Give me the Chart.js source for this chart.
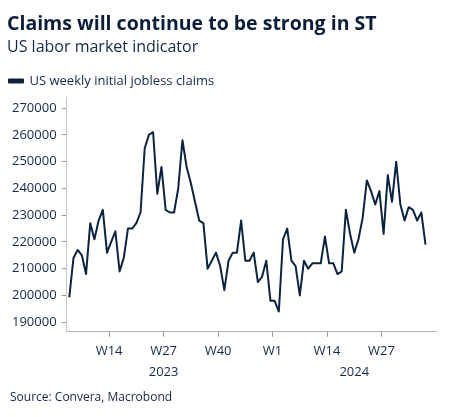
<!DOCTYPE html>
<html>
<head>
<meta charset="utf-8">
<script src="https://cdn.jsdelivr.net/npm/chart.js@4.4.1/dist/chart.umd.min.js"></script>
<style>
  html, body { margin: 0; padding: 0; background: #fff; }
</style>
</head>
<body>
<canvas id="claimsChart" width="453" height="417"></canvas>
<script>
// weekly observations, 2023-W04 .. 2024-W37
const weeks = [
  '2023-W04','2023-W05','2023-W06','2023-W07','2023-W08','2023-W09','2023-W10','2023-W11','2023-W12','2023-W13',
  '2023-W14','2023-W15','2023-W16','2023-W17','2023-W18','2023-W19','2023-W20','2023-W21','2023-W22','2023-W23',
  '2023-W24','2023-W25','2023-W26','2023-W27','2023-W28','2023-W29','2023-W30','2023-W31','2023-W32','2023-W33',
  '2023-W34','2023-W35','2023-W36','2023-W37','2023-W38','2023-W39','2023-W40','2023-W41','2023-W42','2023-W43',
  '2023-W44','2023-W45','2023-W46','2023-W47','2023-W48','2023-W49','2023-W50','2023-W51','2023-W52',
  '2024-W01','2024-W02','2024-W03','2024-W04','2024-W05','2024-W06','2024-W07','2024-W08','2024-W09','2024-W10',
  '2024-W11','2024-W12','2024-W13','2024-W14','2024-W15','2024-W16','2024-W17','2024-W18','2024-W19','2024-W20',
  '2024-W21','2024-W22','2024-W23','2024-W24','2024-W25','2024-W26','2024-W27','2024-W28','2024-W29','2024-W30',
  '2024-W31','2024-W32','2024-W33','2024-W34','2024-W35','2024-W36','2024-W37'
];

const claims = [
  199300, 214000, 217000, 215000, 208000, 227000, 221000, 228000, 232000, 216000,
  220000, 224000, 209000, 214000, 225000, 225000, 227000, 231000, 255000, 260000,
  261000, 238000, 248000, 232000, 231000, 231000, 240000, 258000, 248000, 242000,
  235000, 228000, 227000, 210000, 213000, 216000, 211000, 202000, 213000, 216000,
  216000, 228000, 213000, 213000, 216000, 205000, 207000, 213000, 198000, 198000,
  194000, 221000, 225000, 213000, 211000, 200000, 213000, 210000, 212000, 212000,
  212000, 222000, 212000, 212000, 208000, 209000, 232000, 223000, 216000, 221000,
  229000, 243000, 239000, 234000, 239000, 223000, 245000, 235000, 250000, 234000,
  228000, 233000, 232000, 228000, 231000, 219000
];

// week ticks sit between observations (start of the labelled week)
const weekTicks = ['W14', 'W27', 'W40', 'W1', 'W14', 'W27'];
const weekTickAt = ['2023-W14', '2023-W27', '2023-W40', '2024-W01', '2024-W14', '2024-W27'];
const yearLabels = ['2023', '2024'];
const yearCenters = [22.5, 68];
const yTicks = [190000, 200000, 210000, 220000, 230000, 240000, 250000, 260000, 270000];

const navy = '#0c2340';
const textCol = '#14284a';
const font = 'Open Sans';

const weekTickPos = weekTickAt.map(w => weeks.indexOf(w) - 0.5);

const sourcePlugin = {
  id: 'sourceNote',
  afterDraw(chart) {
    const ctx = chart.ctx;
    ctx.save();
    ctx.font = '12px "' + font + '"';
    ctx.fillStyle = textCol;
    ctx.textBaseline = 'middle';
    ctx.fillText('Source: Convera, Macrobond', 10, 398);
    ctx.restore();
  }
};

new Chart(document.getElementById('claimsChart'), {
  type: 'line',
  data: {
    datasets: [{
      label: 'US weekly initial jobless claims',
      data: claims.map((v, i) => ({ x: i, y: v })),
      borderColor: navy,
      backgroundColor: navy,
      borderWidth: 2,
      pointRadius: 0,
      tension: 0,
      borderJoinStyle: 'round'
    }]
  },
  options: {
    responsive: false,
    animation: false,
    layout: { padding: { left: 7, right: 17, top: 0, bottom: 39 } },
    plugins: {
      title: {
        display: true,
        text: 'Claims will continue to be strong in ST',
        align: 'start',
        color: '#0a1e3a',
        font: { family: font, size: 19.5, weight: 'bold' },
        padding: { top: 13, bottom: 1 }
      },
      subtitle: {
        display: true,
        text: 'US labor market indicator',
        align: 'start',
        color: textCol,
        font: { family: font, size: 16 },
        padding: { top: 0, bottom: 16 }
      },
      legend: {
        align: 'start',
        labels: {
          boxWidth: 14,
          boxHeight: 3,
          padding: 2,
          color: textCol,
          font: { family: font, size: 13 }
        }
      },
      tooltip: { enabled: false }
    },
    scales: {
      x: {
        type: 'linear',
        min: -0.64,
        max: 87.5,
        afterBuildTicks: s => { s.ticks = weekTickPos.map(v => ({ value: v })); },
        ticks: {
          autoSkip: false,
          maxRotation: 0,
          padding: 7,
          color: textCol,
          font: { family: font, size: 13 },
          callback: (v, i) => weekTicks[i]
        },
        grid: { drawOnChartArea: false, tickLength: 5, tickColor: '#9a9a9a' },
        border: { color: '#b4b4b4', width: 1 }
      },
      xYear: {
        type: 'linear',
        position: 'bottom',
        weight: 1,
        min: -0.64,
        max: 87.5,
        afterBuildTicks: s => { s.ticks = yearCenters.map(v => ({ value: v })); },
        ticks: {
          autoSkip: false,
          maxRotation: 0,
          padding: -2,
          color: textCol,
          font: { family: font, size: 13 },
          callback: (v, i) => yearLabels[i]
        },
        grid: { display: false, drawTicks: false },
        border: { display: false }
      },
      y: {
        min: 186430,
        max: 273930,
        afterBuildTicks: s => { s.ticks = yTicks.map(v => ({ value: v })); },
        ticks: {
          padding: 5,
          color: textCol,
          font: { family: font, size: 13 },
          callback: v => String(v)
        },
        grid: { drawOnChartArea: false, tickLength: 5, tickColor: '#9a9a9a' },
        border: { color: '#c8c8c8', width: 1 }
      }
    }
  },
  plugins: [sourcePlugin]
});
</script>
</body>
</html>
